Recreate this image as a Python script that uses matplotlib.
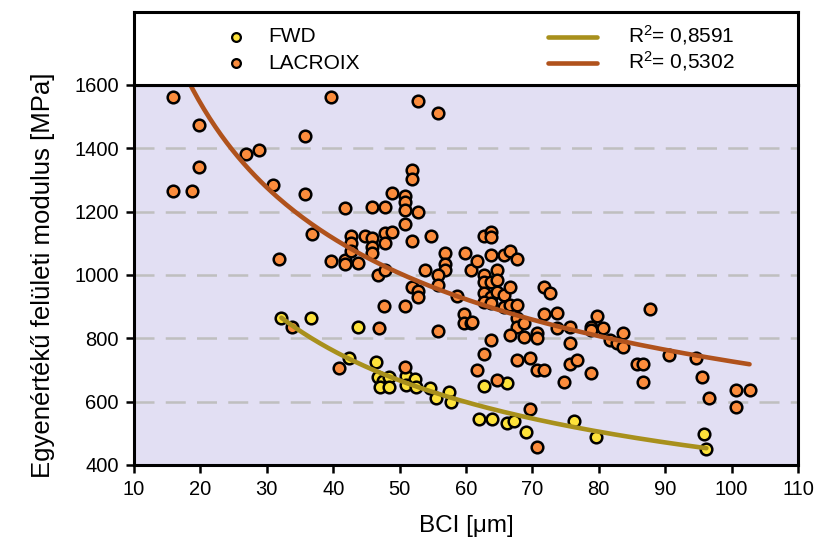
import numpy as np
import matplotlib
matplotlib.use("Agg")
import matplotlib.pyplot as plt

plt.rcParams['font.family'] = ['Liberation Sans', 'DejaVu Sans']
plt.rcParams['mathtext.fontset'] = 'custom'
plt.rcParams['mathtext.rm'] = 'Liberation Sans'
plt.rcParams['mathtext.it'] = 'Liberation Sans'

# ---------------- data ----------------
lacroix_bci = [15.8, 19.8, 19.8, 15.8, 18.8, 26.9, 28.9, 30.9, 35.8, 35.8, 36.8, 31.8, 39.7, 39.7,
               33.8, 40.8, 46.9,
               41.8, 41.8, 41.8, 43.8, 42.7, 42.7, 42.7, 44.8, 45.8, 45.8, 45.8,
               47.8, 48.8, 47.8, 45.8, 47.8, 48.8, 50.8, 50.8, 50.8, 50.8, 51.8, 51.8, 52.8, 51.8,
               54.8, 56.8, 56.8, 56.8, 59.8, 53.8, 46.8, 47.8,
               52.8, 55.8,
               47.7, 50.8, 51.8, 52.8, 52.8,
               55.8, 55.8, 58.7, 59.7, 59.7, 60.8, 55.8,
               60.8, 61.7, 62.7, 63.7, 63.7, 63.7, 65.7, 66.7, 67.7,
               62.7, 62.7, 63.7, 64.7, 64.7,
               62.7, 63.7, 64.7, 65.7, 66.7, 62.7, 63.7, 65.7, 66.7, 67.7,
               60.9, 67.7, 67.7, 68.7, 66.7, 68.7, 70.7, 70.7, 63.7, 62.7,
               71.7, 72.7, 71.7, 73.7, 73.7, 75.7, 75.7, 78.8, 78.8, 79.7, 80.7, 81.7, 82.7,
               83.7, 83.7, 85.7, 86.7, 86.7, 87.7,
               67.7, 69.7, 61.7, 70.7, 71.7, 75.7, 76.7, 64.7, 74.8, 78.8, 69.7, 70.7,
               90.6, 94.6, 95.6, 96.6, 100.7, 102.7, 100.7, 50.8]
lacroix_mod = [1563, 1474, 1341, 1265, 1265, 1382, 1394, 1284, 1439, 1257, 1130, 1050, 1563, 1044,
               835, 707, 832,
               1213, 1047, 1034, 1039, 1123, 1100, 1077, 1123, 1116, 1089, 1068,
               1132, 1137, 1102, 1214, 1214, 1258, 1250, 1232, 1205, 1160, 1332, 1302, 1198, 1108,
               1123, 1068, 1034, 1016, 1068, 1015, 1000, 1015,
               1550, 1511,
               903, 903, 961, 950, 932,
               1000, 968, 935, 877, 849, 849, 824,
               1016, 1044, 1123, 1137, 1121, 1063, 1063, 1076, 1050,
               1000, 979, 979, 1016, 984,
               942, 931, 947, 937, 961, 916, 911, 898, 905, 905,
               853, 863, 837, 847, 810, 805, 816, 800, 795, 750,
               961, 944, 877, 881, 832, 837, 784, 837, 826, 871, 832, 795, 784,
               818, 774, 719, 719, 663, 893,
               732, 737, 700, 700, 700, 719, 732, 668, 663, 690, 576, 458,
               747, 737, 679, 611, 637, 637, 582, 708]

fwd_bci = [32.1, 36.6, 43.7, 42.4, 46.4, 46.7, 47.5, 48.4, 47.0, 48.4, 50.9, 52.3, 51.0, 52.4,
           54.6, 55.5, 57.4, 57.7, 61.9, 63.9, 62.7, 66.2, 66.2, 67.2, 69.0, 76.3, 79.6, 95.9, 96.2]
fwd_mod = [863, 863, 837, 737, 726, 679, 666, 677, 647, 645, 681, 671, 653, 647,
           642, 613, 630, 600, 545, 545, 650, 658, 534, 540, 503, 538, 489, 498, 451]

# power-law trend lines y = a * x^b (coefficients)
fwd_fit_a, fwd_fit_b, fwd_fit_range = 6733.0, -0.591, (32.2, 96.2)
lac_fit_a, lac_fit_b, lac_fit_range = 6258.0, -0.4674, (18.0, 102.7)
fwd_r2_label = "R$^2$= 0,8591"
lac_r2_label = "R$^2$= 0,5302"

x_ticks = [10, 20, 30, 40, 50, 60, 70, 80, 90, 100, 110]
y_ticks = [400, 600, 800, 1000, 1200, 1400, 1600]

# ---------------- style ----------------
W, H = 814, 539
fig = plt.figure(figsize=(W / 100, H / 100), dpi=100)
L, R, B, T = 134, 798, 465, 85
TOPBOX = 12
ax = fig.add_axes([L / W, (H - B) / H, (R - L) / W, (B - T) / H])
lg = fig.add_axes([L / W, (H - T) / H, (R - L) / W, (T - TOPBOX) / H])

bg = '#E2DFF3'
yellow = '#FDE23A'
orange = '#FB8C3C'
fwd_line = '#A8901C'
lac_line = '#B0521C'

ax.set_facecolor(bg)
ax.set_xlim(10, 110)
ax.set_ylim(400, 1600)
ax.set_xticks(x_ticks)
ax.set_yticks(y_ticks)
for v in y_ticks[1:-1]:
    ax.axhline(v, color='#BFBFBF', lw=1.8, dashes=(8, 4.5), zorder=1)

ax.scatter(fwd_bci, fwd_mod, s=70, c=yellow, edgecolors='black', linewidths=1.8, zorder=3)
ax.scatter(lacroix_bci, lacroix_mod, s=70, c=orange, edgecolors='black', linewidths=1.8, zorder=3)

xf = np.linspace(*fwd_fit_range, 200)
ax.plot(xf, fwd_fit_a * xf ** fwd_fit_b, color=fwd_line, lw=3.3, solid_capstyle='round', zorder=4)
xl = np.linspace(*lac_fit_range, 200)
ax.plot(xl, lac_fit_a * xl ** lac_fit_b, color=lac_line, lw=3.3, solid_capstyle='round', zorder=4)

for s in ax.spines.values():
    s.set_linewidth(2.2)
    s.set_color('black')
ax.tick_params(direction='out', length=6, width=1.8, labelsize=14.5, pad=5)
ax.set_xlabel('BCI [μm]', fontsize=17.5, labelpad=11)
ax.set_ylabel('Egyenértékű felületi modulus [MPa]', fontsize=18.5, labelpad=14)

# legend panel
lg.set_xlim(0, 1)
lg.set_ylim(0, 1)
lg.set_xticks([])
lg.set_yticks([])
lg.set_facecolor('white')
for s in lg.spines.values():
    s.set_linewidth(2.2)
    s.set_color('black')
y1, y2 = 0.66, 0.30
mx = 0.1536
lg.scatter([mx], [y1], s=40, c=yellow, edgecolors='black', linewidths=1.6)
lg.scatter([mx], [y2], s=40, c=orange, edgecolors='black', linewidths=1.6)
lg.text(0.2018, y1, 'FWD', fontsize=15, va='center', ha='left')
lg.text(0.2018, y2, 'LACROIX', fontsize=15, va='center', ha='left')
lg.plot([0.6235, 0.697], [y1, y1], color=fwd_line, lw=3.3, solid_capstyle='round')
lg.plot([0.6235, 0.697], [y2, y2], color=lac_line, lw=3.3, solid_capstyle='round')
lg.text(0.744, y1 + 0.03, fwd_r2_label, fontsize=15, va='center', ha='left')
lg.text(0.744, y2 + 0.03, lac_r2_label, fontsize=15, va='center', ha='left')

fig.savefig('out.png', dpi=100)
